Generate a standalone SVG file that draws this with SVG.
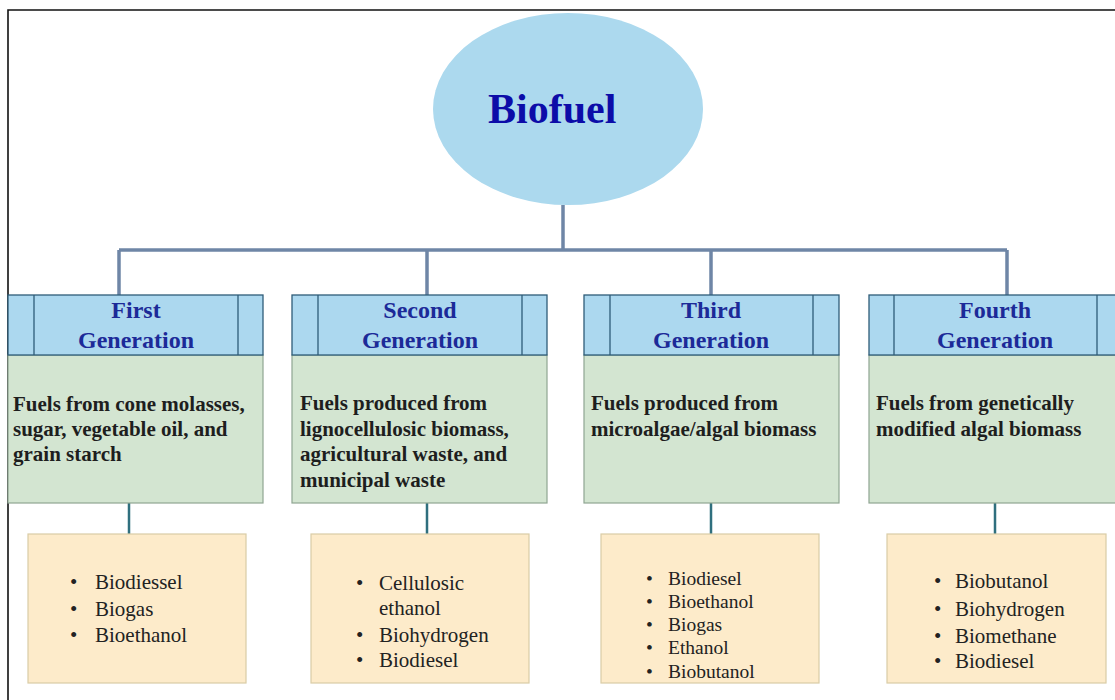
<svg xmlns="http://www.w3.org/2000/svg" width="1115" height="700" viewBox="0 0 1115 700">
<style>
.frame{fill:none;stroke:#111;stroke-width:1.6}
.root{fill:#acd9ee}
.hdr{fill:#acd8ef;stroke:#2f5c78;stroke-width:1.3}
.body{fill:#d3e5d1;stroke:#8fa592;stroke-width:1.2}
.out{fill:#fdebca;stroke:#d9cca6;stroke-width:1.2}
.c1{fill:none;stroke:#6f86a6;stroke-width:3.5}
.c2{fill:none;stroke:#2f6f7e;stroke-width:2.5}
.ttl{font-family:"Liberation Serif","Times New Roman",serif;font-weight:bold;font-size:42px;fill:#0c0ca8}
.gen{font-family:"Liberation Serif","Times New Roman",serif;font-weight:bold;font-size:24px;fill:#1c2a98;text-anchor:middle}
.desc{font-family:"Liberation Serif","Times New Roman",serif;font-weight:bold;font-size:21px;fill:#1e1e1e}
.li{font-family:"Liberation Serif","Times New Roman",serif;font-size:21px;fill:#222}
.li2{font-family:"Liberation Serif","Times New Roman",serif;font-size:19.5px;fill:#222}
</style>
<path class="frame" d="M8,702 V10 H1117"/>
<g id="connectors">
<path class="c1" d="M563,205 V250 M119,250 H1007 M119,250 V295 M427,250 V295 M711,250 V295 M1007,250 V295"/>
<path class="c2" d="M129,503 V534 M427,503 V534 M711,503 V534 M995,503 V534"/>
</g>
<g id="biofuel">
<ellipse class="root" cx="568" cy="109" rx="135" ry="96"/>
<text class="ttl" x="488" y="123">Biofuel</text>
</g>
<g id="gen1">
<rect class="body" x="8" y="355" width="255" height="148"/>
<rect class="hdr" x="8" y="295" width="255" height="60"/>
<path class="hdr" d="M34,295 V355 M238,295 V355"/>
<text class="gen" x="136" y="318">First</text>
<text class="gen" x="136" y="348">Generation</text>
<text class="desc" x="13" y="411">Fuels from cone molasses,</text>
<text class="desc" x="13" y="436">sugar, vegetable oil, and</text>
<text class="desc" x="13" y="461">grain starch</text>
</g>
<g id="gen2">
<rect class="body" x="292" y="355" width="255" height="148"/>
<rect class="hdr" x="292" y="295" width="255" height="60"/>
<path class="hdr" d="M318,295 V355 M522,295 V355"/>
<text class="gen" x="420" y="318">Second</text>
<text class="gen" x="420" y="348">Generation</text>
<text class="desc" x="300" y="410">Fuels produced from</text>
<text class="desc" x="300" y="436">lignocellulosic biomass,</text>
<text class="desc" x="300" y="461">agricultural waste, and</text>
<text class="desc" x="300" y="487">municipal waste</text>
</g>
<g id="gen3">
<rect class="body" x="584" y="355" width="255" height="148"/>
<rect class="hdr" x="584" y="295" width="255" height="60"/>
<path class="hdr" d="M610,295 V355 M813,295 V355"/>
<text class="gen" x="711" y="318">Third</text>
<text class="gen" x="711" y="348">Generation</text>
<text class="desc" x="591" y="410">Fuels produced from</text>
<text class="desc" x="591" y="436">microalgae/algal biomass</text>
</g>
<g id="gen4">
<rect class="body" x="869" y="355" width="255" height="148"/>
<rect class="hdr" x="869" y="295" width="255" height="60"/>
<path class="hdr" d="M894,295 V355 M1097,295 V355"/>
<text class="gen" x="995" y="318">Fourth</text>
<text class="gen" x="995" y="348">Generation</text>
<text class="desc" x="876" y="410">Fuels from genetically</text>
<text class="desc" x="876" y="436">modified algal biomass</text>
</g>
<g id="out1">
<rect class="out" x="28" y="534" width="218" height="149"/>
<text class="li" x="70" y="589">•</text><text class="li" x="95" y="589">Biodiessel</text>
<text class="li" x="70" y="616">•</text><text class="li" x="95" y="616">Biogas</text>
<text class="li" x="70" y="642">•</text><text class="li" x="95" y="642">Bioethanol</text>
</g>
<g id="out2">
<rect class="out" x="311" y="534" width="218" height="149"/>
<text class="li" x="356" y="590">•</text><text class="li" x="379" y="590">Cellulosic</text>
<text class="li" x="379" y="615">ethanol</text>
<text class="li" x="356" y="642">•</text><text class="li" x="379" y="642">Biohydrogen</text>
<text class="li" x="356" y="667">•</text><text class="li" x="379" y="667">Biodiesel</text>
</g>
<g id="out3">
<rect class="out" x="601" y="534" width="218" height="149"/>
<text class="li2" x="646" y="585">•</text><text class="li2" x="668" y="585">Biodiesel</text>
<text class="li2" x="646" y="608">•</text><text class="li2" x="668" y="608">Bioethanol</text>
<text class="li2" x="646" y="631">•</text><text class="li2" x="668" y="631">Biogas</text>
<text class="li2" x="646" y="654">•</text><text class="li2" x="668" y="654">Ethanol</text>
<text class="li2" x="646" y="678">•</text><text class="li2" x="668" y="678">Biobutanol</text>
</g>
<g id="out4">
<rect class="out" x="887" y="534" width="219" height="149"/>
<text class="li" x="934" y="588">•</text><text class="li" x="955" y="588">Biobutanol</text>
<text class="li" x="934" y="616">•</text><text class="li" x="955" y="616">Biohydrogen</text>
<text class="li" x="934" y="643">•</text><text class="li" x="955" y="643">Biomethane</text>
<text class="li" x="934" y="668">•</text><text class="li" x="955" y="668">Biodiesel</text>
</g>
</svg>
